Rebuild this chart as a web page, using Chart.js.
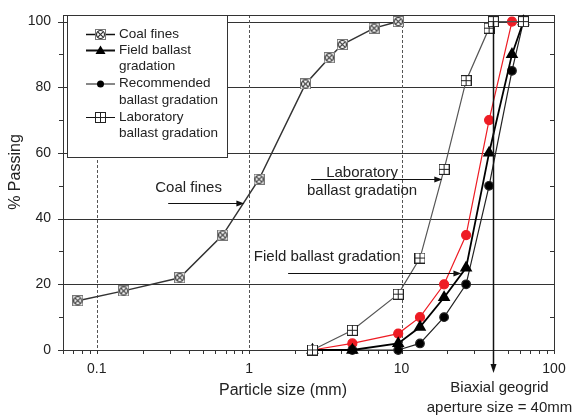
<!DOCTYPE html>
<html>
<head>
<meta charset="utf-8">
<script src="https://cdn.jsdelivr.net/npm/chart.js@4.4.1/dist/chart.umd.min.js"></script>
<style>
  html, body { margin: 0; padding: 0; background: #fff; }
  canvas { display: block; }
</style>
</head>
<body>
<canvas id="sieveChart" width="572" height="417"></canvas>
<script>
// particle sizes (mm) and % passing
var coalSize = [0.075, 0.15, 0.35, 0.67, 1.16, 2.34, 3.35, 4.08, 6.6, 9.5];
var coalPass = [15, 18, 22, 35, 52, 81, 89, 93, 98, 100];

var labSize = [2.6, 4.75, 9.5, 13.2, 19, 26.5, 37.5, 40, 63];
var labPass = [0, 6, 17, 28, 55, 82, 98, 100, 100];

var fieldSize = [2.6, 4.75, 9.5, 13.2, 19, 26.5, 37.5, 53, 63];
var fieldPass = [0, 0, 2, 7, 16, 25, 60, 90, 100];

var recSize = [4.75, 9.5, 13.2, 19, 26.5, 37.5, 53, 63];
var recPass = [0, 0, 2, 10, 20, 50, 85, 100];

var redSize = [2.6, 4.75, 9.5, 13.2, 19, 26.5, 37.5, 53, 63];
var redPass = [0, 2, 5, 10, 20, 35, 70, 100, 100];

var xTicks = [0.06, 0.07, 0.08, 0.09, 0.1, 0.2, 0.3, 0.4, 0.5, 0.6, 0.7, 0.8, 0.9,
              1, 2, 3, 4, 5, 6, 7, 8, 9, 10, 20, 30, 40, 50, 60, 70, 80, 90, 100];
var xLabels = [0.1, 1, 10, 100];
var xDashed = [0.1, 1, 10];
var yTicks = [0, 10, 20, 30, 40, 50, 60, 70, 80, 90, 100];
var yLabels = [0, 20, 40, 60, 80, 100];
var apertureSize = 40;

var FONT = '"Liberation Sans", Arial, sans-serif';
var TEXT = '#222';

function pts(xs, ys) {
  return xs.map(function(x, i) { return { x: x, y: ys[i] }; });
}

function coalMarker() {
  var c = document.createElement('canvas');
  c.width = 11; c.height = 11;
  var g = c.getContext('2d');
  g.fillStyle = '#fff';
  g.fillRect(0, 0, 11, 11);
  g.strokeStyle = '#777';
  g.lineWidth = 1;
  g.strokeRect(0.5, 0.5, 10, 10);
  g.strokeStyle = '#333';
  g.lineWidth = 1.2;
  g.beginPath(); g.arc(5.5, 5.5, 4, 0, Math.PI * 2); g.stroke();
  g.beginPath();
  g.moveTo(2.8, 2.8); g.lineTo(8.2, 8.2);
  g.moveTo(8.2, 2.8); g.lineTo(2.8, 8.2);
  g.stroke();
  return c;
}

function labMarker() {
  var c = document.createElement('canvas');
  c.width = 11; c.height = 11;
  var g = c.getContext('2d');
  g.fillStyle = '#fff';
  g.fillRect(0, 0, 11, 11);
  g.strokeStyle = '#222';
  g.lineWidth = 1;
  g.strokeRect(0.5, 0.5, 10, 10);
  g.beginPath();
  g.moveTo(5.5, 0.5); g.lineTo(5.5, 10.5);
  g.moveTo(0.5, 5.5); g.lineTo(10.5, 5.5);
  g.stroke();
  return c;
}

var coalImg = coalMarker();
var labImg = labMarker();

function hline(ctx, x1, x2, y) {
  ctx.beginPath(); ctx.moveTo(x1, y); ctx.lineTo(x2, y); ctx.stroke();
}
function vline(ctx, x, y1, y2) {
  ctx.beginPath(); ctx.moveTo(x, y1); ctx.lineTo(x, y2); ctx.stroke();
}

// label overflow must not push the plot area around
function noPad(s) {
  s.paddingTop = 0; s.paddingBottom = 0; s.paddingLeft = 0; s.paddingRight = 0;
}

// frame, grid lines and tick marks
var framePlugin = {
  id: 'frame',
  beforeDatasetsDraw: function(chart) {
    var ctx = chart.ctx, a = chart.chartArea;
    var xs = chart.scales.x, ys = chart.scales.y;
    ctx.save();
    ctx.lineWidth = 1;
    ctx.strokeStyle = '#333';
    yLabels.forEach(function(v) {
      if (v === 0) return;
      var y = Math.round(ys.getPixelForValue(v)) + 0.5;
      hline(ctx, a.left, a.right, y);
    });
    ctx.strokeStyle = '#555';
    ctx.setLineDash([3, 2]);
    xDashed.forEach(function(v) {
      var x = Math.round(xs.getPixelForValue(v)) + 0.5;
      vline(ctx, x, a.top, a.bottom);
    });
    ctx.setLineDash([]);
    ctx.strokeStyle = '#333';
    yTicks.forEach(function(v) {
      var y = Math.round(ys.getPixelForValue(v)) + 0.5;
      var major = yLabels.indexOf(v) >= 0;
      hline(ctx, a.left - (major ? 5 : 4), a.left, y);
      if (!major) hline(ctx, a.right - 4, a.right, y);
    });
    xTicks.forEach(function(v) {
      var x = Math.round(xs.getPixelForValue(v)) + 0.5;
      vline(ctx, x, a.bottom, a.bottom + 4);
    });
    ctx.strokeRect(Math.round(a.left) + 0.5, Math.round(a.top) + 0.5,
                   Math.round(a.right - a.left), Math.round(a.bottom - a.top));
    ctx.restore();
  }
};

function arrowH(ctx, x1, x2, y) {
  hline(ctx, x1, x2 - 6, y);
  ctx.beginPath();
  ctx.moveTo(x2, y); ctx.lineTo(x2 - 8, y - 3); ctx.lineTo(x2 - 8, y + 3);
  ctx.closePath(); ctx.fill();
}

// annotations placed in data coordinates
var notes = [
  { lines: ['Coal fines'], x: 0.4, y: 49.5, from: 0.294, to: 0.93, ay: 44.7 },
  { lines: ['Laboratory', 'ballast gradation'], x: 5.5, y: 54, from: 2.55, to: 18.5, ay: 52 },
  { lines: ['Field ballast gradation'], x: 3.25, y: 28.3, from: 1.8, to: 24.7, ay: 23.3 }
];

var notesPlugin = {
  id: 'notes',
  afterDatasetsDraw: function(chart) {
    var ctx = chart.ctx, a = chart.chartArea;
    var xs = chart.scales.x, ys = chart.scales.y;
    ctx.save();
    ctx.fillStyle = TEXT;
    ctx.strokeStyle = '#111';
    ctx.lineWidth = 1.2;
    ctx.font = '15px ' + FONT;
    ctx.textAlign = 'center';
    ctx.textBaseline = 'middle';
    notes.forEach(function(n) {
      var cx = xs.getPixelForValue(n.x), cy = ys.getPixelForValue(n.y);
      n.lines.forEach(function(t, i) { ctx.fillText(t, cx, cy + i * 18); });
      ctx.fillStyle = '#111';
      arrowH(ctx, xs.getPixelForValue(n.from), xs.getPixelForValue(n.to),
             Math.round(ys.getPixelForValue(n.ay)) + 0.5);
      ctx.fillStyle = TEXT;
    });

    // geogrid aperture line
    var gx = Math.round(xs.getPixelForValue(apertureSize)) + 0.5;
    var tipY = a.bottom + 23;
    ctx.strokeStyle = '#111';
    ctx.lineWidth = 1.5;
    vline(ctx, gx, ys.getPixelForValue(100), tipY - 6);
    ctx.fillStyle = '#111';
    ctx.beginPath();
    ctx.moveTo(gx, tipY); ctx.lineTo(gx - 3, tipY - 9); ctx.lineTo(gx + 3, tipY - 9);
    ctx.closePath(); ctx.fill();
    ctx.fillStyle = TEXT;
    ctx.font = '15px ' + FONT;
    ctx.fillText('Biaxial geogrid', gx + 6, a.bottom + 38);
    ctx.fillText('aperture size = 40mm', gx + 6, a.bottom + 58);

    // axis titles
    ctx.font = '16px ' + FONT;
    ctx.fillText('Particle size (mm)', 283, a.bottom + 41);
    ctx.save();
    ctx.translate(16, 172);
    ctx.rotate(-Math.PI / 2);
    ctx.fillText('% Passing', 0, 0);
    ctx.restore();

    // legend box
    var L = 67, T = Math.round(a.top) + 0.5;
    ctx.fillStyle = '#fff';
    ctx.fillRect(L, T, 160, 142);
    ctx.strokeStyle = '#333';
    ctx.lineWidth = 1;
    ctx.strokeRect(L + 0.5, T, 160, 142);
    var rows = [
      { lines: ['Coal fines'], y: 34, w: 1.5, mark: 'coal' },
      { lines: ['Field ballast', 'gradation'], y: 50, w: 2, mark: 'tri' },
      { lines: ['Recommended', 'ballast gradation'], y: 83.5, w: 1, mark: 'dot' },
      { lines: ['Laboratory', 'ballast gradation'], y: 117, w: 1, mark: 'lab' }
    ];
    ctx.textAlign = 'left';
    ctx.font = '13.5px ' + FONT;
    rows.forEach(function(r) {
      ctx.strokeStyle = '#111';
      ctx.lineWidth = r.w;
      hline(ctx, 86, 115, r.y + 0.5);
      ctx.fillStyle = '#000';
      var mx = 100.5, my = r.y + 0.5;
      if (r.mark === 'coal') ctx.drawImage(coalImg, mx - 5.5, my - 5.5);
      if (r.mark === 'lab') ctx.drawImage(labImg, mx - 5.5, my - 5.5);
      if (r.mark === 'dot') { ctx.beginPath(); ctx.arc(mx, my, 3.5, 0, Math.PI * 2); ctx.fill(); }
      if (r.mark === 'tri') {
        ctx.beginPath();
        ctx.moveTo(mx, my - 5); ctx.lineTo(mx - 5, my + 3.5); ctx.lineTo(mx + 5, my + 3.5);
        ctx.closePath(); ctx.fill();
      }
      ctx.fillStyle = TEXT;
      r.lines.forEach(function(t, i) { ctx.fillText(t, 119, r.y + i * 16.7); });
    });
    ctx.restore();
  }
};

var ctx = document.getElementById('sieveChart').getContext('2d');
var chart = new Chart(ctx, {
  type: 'scatter',
  data: {
    datasets: [
      { label: 'Coal fines', data: pts(coalSize, coalPass), showLine: true,
        borderColor: '#333', borderWidth: 1.5, pointStyle: coalImg },
      { label: 'Laboratory ballast gradation', data: pts(labSize, labPass), showLine: true,
        borderColor: '#555', borderWidth: 1.2, pointStyle: labImg },
      { label: 'Field ballast gradation', data: pts(fieldSize, fieldPass), showLine: true,
        borderColor: '#000', backgroundColor: '#000', borderWidth: 1.8,
        pointStyle: 'triangle', pointRadius: 5.5 },
      { label: 'Recommended ballast gradation', data: pts(recSize, recPass), showLine: true,
        borderColor: '#222', backgroundColor: '#000', borderWidth: 1.2,
        pointStyle: 'circle', pointRadius: 4.3 },
      { label: 'Red', data: pts(redSize, redPass), showLine: true,
        borderColor: '#ee1c24', backgroundColor: '#ee1c24', borderWidth: 1.2,
        pointStyle: 'circle', pointRadius: 4.5 }
    ]
  },
  options: {
    responsive: false,
    animation: false,
    clip: false,
    layout: { padding: { left: 0, top: 15, right: 18, bottom: 0 } },
    plugins: { legend: { display: false }, tooltip: { enabled: false } },
    scales: {
      x: {
        type: 'logarithmic',
        min: 0.06,
        max: 100,
        grid: { display: false },
        border: { display: false },
        afterBuildTicks: function(s) { s.ticks = xTicks.map(function(v) { return { value: v }; }); },
        afterFit: function(s) { s.height = 67; noPad(s); },
        ticks: {
          autoSkip: false,
          maxRotation: 0,
          padding: 3,
          color: TEXT,
          font: { family: FONT, size: 14 },
          callback: function(v) { return xLabels.indexOf(v) >= 0 ? String(v) : ''; }
        }
      },
      y: {
        min: 0,
        max: 102,
        grid: { display: false },
        border: { display: false },
        afterBuildTicks: function(s) { s.ticks = yTicks.map(function(v) { return { value: v }; }); },
        afterFit: function(s) { s.width = 63; noPad(s); },
        ticks: {
          autoSkip: false,
          padding: 4,
          color: TEXT,
          font: { family: FONT, size: 14 },
          callback: function(v) { return yLabels.indexOf(v) >= 0 ? String(v) : ''; }
        }
      }
    }
  },
  plugins: [framePlugin, notesPlugin]
});
</script>
</body>
</html>
